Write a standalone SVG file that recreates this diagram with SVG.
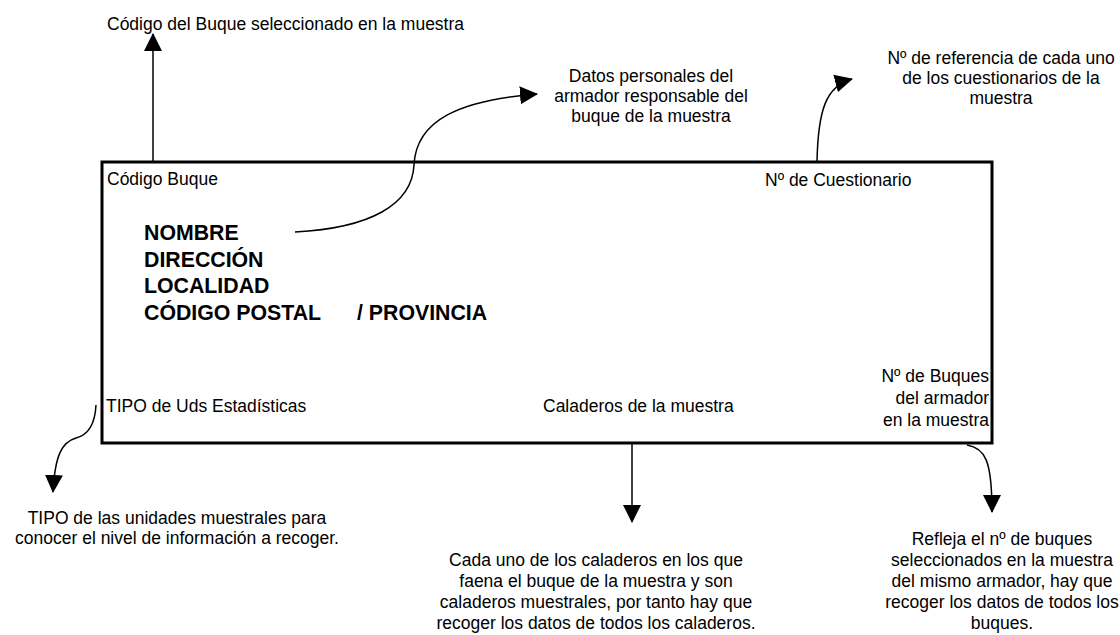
<svg xmlns="http://www.w3.org/2000/svg" width="1120" height="635" viewBox="0 0 1120 635">
<style>
text{font-family:"Liberation Sans",Arial,sans-serif;font-size:17.5px;fill:#000}
.b{font-weight:bold;font-size:21.3px}
.c{text-anchor:middle}
.r{text-anchor:end}
.ln{fill:none;stroke:#000;stroke-width:1.5}
.box{fill:#fff;stroke:#000;stroke-width:3}
</style>
<defs>
<marker id="ah" markerUnits="userSpaceOnUse" markerWidth="18" markerHeight="18" viewBox="0 0 18 18" refX="17" refY="9" orient="auto">
<path d="M0,0 L18,9 L0,18 z" fill="#000"/>
</marker>
</defs>
<g id="ficha">
<rect class="box" x="102" y="162" width="890" height="281"/>
<text x="107" y="185">Código Buque</text>
<text x="765" y="186">Nº de Cuestionario</text>
<text class="b" x="144" y="240">NOMBRE</text>
<text class="b" x="144" y="267">DIRECCIÓN</text>
<text class="b" x="144" y="293">LOCALIDAD</text>
<text class="b" x="144" y="320">CÓDIGO POSTAL</text>
<text class="b" x="357" y="320">/ PROVINCIA</text>
<text x="106" y="412">TIPO de Uds Estadísticas</text>
<text x="543" y="412">Caladeros de la muestra</text>
<text class="r" x="989" y="382">Nº de Buques</text>
<text class="r" x="989" y="404">del armador</text>
<text class="r" x="989" y="426">en la muestra</text>
</g>
<g id="nota-codigo"><text x="107" y="30">Código del Buque seleccionado en la muestra</text></g>
<g id="nota-datos">
<text class="c" x="651" y="82">Datos personales del</text>
<text class="c" x="651" y="102">armador responsable del</text>
<text class="c" x="651" y="122">buque de la muestra</text>
</g>
<g id="nota-cuestionario">
<text class="c" x="1001" y="64">Nº de referencia de cada uno</text>
<text class="c" x="1001" y="84">de los cuestionarios de la</text>
<text class="c" x="1001" y="104">muestra</text>
</g>
<g id="nota-tipo">
<text class="c" x="177" y="524">TIPO  de las unidades muestrales para</text>
<text class="c" x="177" y="544">conocer el nivel de información a recoger.</text>
</g>
<g id="nota-caladeros">
<text class="c" x="596" y="566">Cada uno de los caladeros en los que</text>
<text class="c" x="596" y="587">faena el buque de la muestra y son</text>
<text class="c" x="596" y="608">caladeros muestrales, por tanto hay que</text>
<text class="c" x="596" y="629">recoger los datos de todos los caladeros.</text>
</g>
<g id="nota-buques">
<text class="c" x="1002" y="545">Refleja el nº de buques</text>
<text class="c" x="1002" y="566">seleccionados en la muestra</text>
<text class="c" x="1002" y="587">del mismo armador, hay que</text>
<text class="c" x="1002" y="608">recoger los datos de todos los</text>
<text class="c" x="1002" y="629">buques.</text>
</g>
<g id="connectors">
<path class="ln" marker-end="url(#ah)" d="M153,162 L153,34"/>
<path class="ln" marker-end="url(#ah)" d="M295,232 C370,228 412,205 414,165 C416,120 460,100 537,94"/>
<path class="ln" marker-end="url(#ah)" d="M817,162 C818,110 826,86 852,79"/>
<path class="ln" marker-end="url(#ah)" d="M96,405 C95,425 88,435 76,438 C62,442 55,455 53,492"/>
<path class="ln" marker-end="url(#ah)" d="M632,443 L632,522"/>
<path class="ln" marker-end="url(#ah)" d="M967,445 C985,448 992,460 992,512"/>
</g>
</svg>
